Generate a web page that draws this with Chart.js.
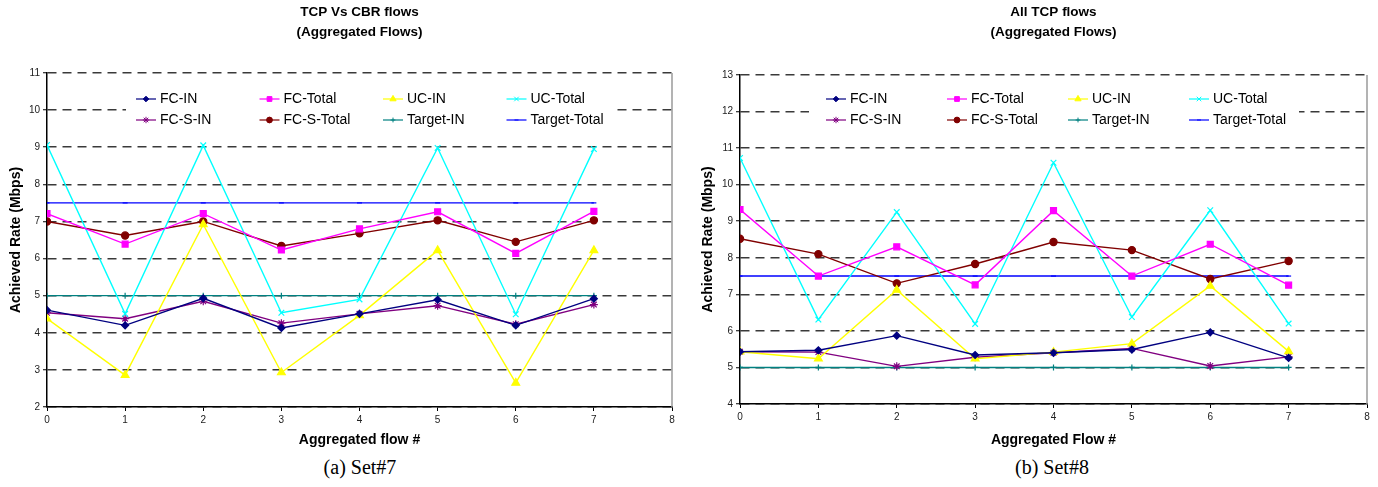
<!DOCTYPE html>
<html><head><meta charset="utf-8">
<script src="https://cdn.jsdelivr.net/npm/chart.js@4/dist/chart.umd.min.js"></script>
<style>
html,body{margin:0;padding:0;background:#fff;width:1378px;height:487px;overflow:hidden}
.box{position:absolute;top:0;height:452px}
.cap{position:absolute;top:455px;font-family:"Liberation Serif","Times New Roman",serif;font-size:20px;color:#000;text-align:center;width:300px;line-height:24px}
</style></head><body>
<div class="box" style="left:0;width:690px"><canvas id="c1" width="690" height="452"></canvas></div>
<div class="box" style="left:690px;width:688px"><canvas id="c2" width="688" height="452"></canvas></div>
<div class="cap" style="left:210px">(a) Set#7</div>
<div class="cap" style="left:902px">(b) Set#8</div>
<script>
// ---------- data ----------
const flowIndex = [0, 1, 2, 3, 4, 5, 6, 7];
const seriesNames = ["FC-IN", "FC-Total", "UC-IN", "UC-Total", "FC-S-IN", "FC-S-Total", "Target-IN", "Target-Total"];

// Set#7 (TCP Vs CBR flows)
const set7_FC_IN      = [4.61, 4.20, 4.93, 4.13, 4.51, 4.89, 4.20, 4.92];
const set7_FC_Total   = [7.21, 6.39, 7.21, 6.23, 6.80, 7.26, 6.14, 7.27];
const set7_UC_IN      = [4.38, 2.86, 6.92, 2.93, 4.47, 6.22, 2.65, 6.22];
const set7_UC_Total   = [9.06, 4.51, 9.05, 4.54, 4.90, 8.98, 4.50, 8.95];
const set7_FCS_IN     = [4.54, 4.38, 4.85, 4.26, 4.51, 4.73, 4.23, 4.76];
const set7_FCS_Total  = [7.00, 6.62, 7.00, 6.34, 6.68, 7.03, 6.45, 7.03];
const set7_Target_IN  = [5, 5, 5, 5, 5, 5, 5, 5];
const set7_Target_Tot = [7.5, 7.5, 7.5, 7.5, 7.5, 7.5, 7.5, 7.5];

// Set#8 (All TCP flows)
const set8_FC_IN      = [5.43, 5.47, 5.87, 5.34, 5.40, 5.49, 5.96, 5.26];
const set8_FC_Total   = [9.32, 7.50, 8.30, 7.26, 9.29, 7.50, 8.37, 7.25];
const set8_UC_IN      = [5.43, 5.24, 7.12, 5.24, 5.42, 5.65, 7.23, 5.44];
const set8_UC_Total   = [10.73, 6.31, 9.25, 6.19, 10.60, 6.38, 9.30, 6.20];
const set8_FCS_IN     = [5.43, 5.42, 5.03, 5.28, 5.40, 5.52, 5.04, 5.29];
const set8_FCS_Total  = [8.52, 8.10, 7.30, 7.83, 8.43, 8.21, 7.42, 7.91];
const set8_Target_IN  = [5, 5, 5, 5, 5, 5, 5, 5];
const set8_Target_Tot = [7.5, 7.5, 7.5, 7.5, 7.5, 7.5, 7.5, 7.5];

const xTicks = [0, 1, 2, 3, 4, 5, 6, 7, 8];

// ---------- styles ----------
const FONT = '"Liberation Sans", Arial, sans-serif';
const styles = [
  {color: '#000080', pointStyle: 'rectRot',  r: 3.5},
  {color: '#FF00FF', pointStyle: 'rect',     r: 4.2},
  {color: '#FFFF00', pointStyle: 'triangle', r: 4.5},
  {color: '#00FFFF', pointStyle: 'crossRot', r: 4},
  {color: '#800080', pointStyle: 'star',     r: 4},
  {color: '#800000', pointStyle: 'circle',   r: 3.6},
  {color: '#008080', pointStyle: 'cross',    r: 3},
  {color: '#0000FF', pointStyle: 'line',     r: 2.5}
];

function makeDatasets(valueLists) {
  return valueLists.map((vals, i) => ({
    label: seriesNames[i],
    data: flowIndex.map((x, k) => ({x: x, y: vals[k]})),
    borderColor: styles[i].color,
    backgroundColor: styles[i].color,
    pointBackgroundColor: styles[i].color,
    pointBorderColor: styles[i].color,
    pointStyle: styles[i].pointStyle,
    pointRadius: styles[i].r,
    pointBorderWidth: 1.2,
    borderWidth: 1.4,
    tension: 0,
    fill: false
  }));
}

const decor = {
  id: 'decor',
  beforeDatasetsDraw(chart) {
    const {ctx, chartArea: a} = chart;
    ctx.save();
    ctx.strokeStyle = '#9a9a9a'; ctx.lineWidth = 1.5;
    ctx.beginPath(); ctx.moveTo(a.right, a.top); ctx.lineTo(a.right, a.bottom); ctx.stroke();
    ctx.restore();
  },
  afterDraw(chart, args, o) {
    const {ctx, chartArea: a} = chart;
    ctx.save();
    ctx.fillStyle = '#000';
    ctx.font = 'bold 13.5px ' + FONT;
    ctx.textAlign = 'center'; ctx.textBaseline = 'middle';
    const cx = (a.left + a.right) / 2;
    o.title.forEach((t, i) => ctx.fillText(t, cx, o.titleY[i]));
    // legend
    ctx.fillStyle = '#fff';
    ctx.fillRect(o.legBox[0], o.legBox[1], o.legBox[2] - o.legBox[0], o.legBox[3] - o.legBox[1]);
    chart.data.datasets.forEach((ds, i) => {
      const x = o.legCols[i % 4], y = o.legRows[Math.floor(i / 4)];
      ctx.globalAlpha = 0.6;
      ctx.strokeStyle = ds.borderColor; ctx.lineWidth = 2;
      ctx.beginPath(); ctx.moveTo(x, y); ctx.lineTo(x + 20, y); ctx.stroke();
      ctx.globalAlpha = 1;
      ctx.fillStyle = ds.pointBackgroundColor; ctx.strokeStyle = ds.pointBorderColor; ctx.lineWidth = 1;
      Chart.helpers.drawPoint(ctx, {pointStyle: ds.pointStyle, radius: ds.pointRadius * 0.8, borderWidth: 1, rotation: 0}, x + 10, y);
      ctx.fillStyle = '#000';
      ctx.font = '14px ' + FONT;
      ctx.textAlign = 'left'; ctx.textBaseline = 'middle';
      ctx.fillText(ds.label, x + 24, y + 0.5);
    });
    ctx.restore();
  }
};

function makeChart(id, datasets, cfg) {
  return new Chart(document.getElementById(id), {
    type: 'line',
    data: {datasets: datasets},
    plugins: [decor],
    options: {
      responsive: false, animation: false, events: [],
      layout: {padding: {top: cfg.top, right: cfg.right, left: 0, bottom: 0}},
      plugins: {
        legend: {display: false}, tooltip: {enabled: false}, title: {display: false},
        decor: cfg.decor
      },
      scales: {
        x: {
          type: 'linear', min: 0, max: 8,
          afterBuildTicks: s => { s.ticks = xTicks.map(v => ({value: v})); },
          ticks: {color: '#222', font: {size: 10, family: FONT}, padding: 3, maxRotation: 0, autoSkip: false},
          grid: {drawOnChartArea: false, drawTicks: true, tickLength: 4, tickColor: '#000', tickWidth: 1, color: '#000'},
          border: {display: true, color: '#000', width: 1.5},
          title: {display: true, text: cfg.xTitle, color: '#000', font: {size: 14, weight: 'bold', family: FONT}, padding: {top: 0, bottom: 3.6}},
          afterFit: s => { s.height = cfg.xHeight; }
        },
        y: {
          min: cfg.ymin, max: cfg.ymax,
          ticks: {stepSize: 1, color: '#222', font: {size: 10, family: FONT}, padding: 3},
          grid: {color: '#3a3a3a', lineWidth: 1.5, tickLength: 4, tickColor: '#000', tickWidth: 1, tickBorderDash: []},
          border: {display: true, color: '#000', width: 1.5, dash: [9, 6]},
          title: {display: true, text: 'Achieved Rate (Mbps)', color: '#000', font: {size: 14, weight: 'bold', family: FONT}, padding: {top: cfg.yTitlePad, bottom: 0}},
          afterFit: s => { s.width = cfg.yWidth; }
        }
      }
    }
  });
}

makeChart('c1',
  makeDatasets([set7_FC_IN, set7_FC_Total, set7_UC_IN, set7_UC_Total, set7_FCS_IN, set7_FCS_Total, set7_Target_IN, set7_Target_Tot]),
  {top: 73, right: 18, xHeight: 45, yWidth: 47, ymin: 2, ymax: 11, yTitlePad: 7.6,
   xTitle: 'Aggregated flow #',
   decor: {title: ['TCP Vs CBR flows', '(Aggregated Flows)'], titleY: [12, 32],
           legBox: [126, 87, 616, 132], legCols: [136, 259.5, 383, 506.5], legRows: [99, 120]}});

makeChart('c2',
  makeDatasets([set8_FC_IN, set8_FC_Total, set8_UC_IN, set8_UC_Total, set8_FCS_IN, set8_FCS_Total, set8_Target_IN, set8_Target_Tot]),
  {top: 75, right: 11, xHeight: 48, yWidth: 50, ymin: 4, ymax: 13, yTitlePad: 9.6,
   xTitle: 'Aggregated Flow #',
   decor: {title: ['All TCP flows', '(Aggregated Flows)'], titleY: [12, 32],
           legBox: [119, 87, 609, 133], legCols: [136, 257, 378, 499], legRows: [99, 120]}});
</script>
</body></html>
